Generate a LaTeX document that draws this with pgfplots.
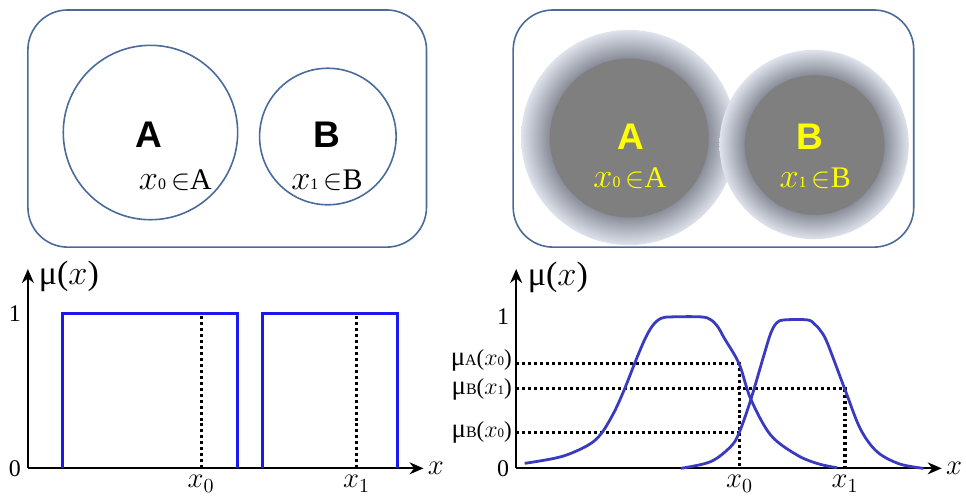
\documentclass[border=0pt]{standalone}
\usepackage{fontspec}
\setmainfont{Liberation Serif}
\setsansfont{Liberation Sans}
\usepackage{pgfplots}
\pgfplotsset{compat=1.18}
\usetikzlibrary{arrows.meta}
\definecolor{boxc}{HTML}{4A6B9A}
\definecolor{curvec}{HTML}{3A3AC0}
\definecolor{rectc}{HTML}{1A1AF0}
\definecolor{dgray}{HTML}{7F7F7F}
\definecolor{ring1}{HTML}{8A8E9A}
\definecolor{ring2}{HTML}{DFE3EC}
\definecolor{yel}{HTML}{FFFF00}
\pgfdeclareradialshading{glowA}{\pgfpoint{0bp}{0bp}}{color(0bp)=(dgray); color(18.4bp)=(dgray); color(18.5bp)=(ring1); color(25bp)=(ring2); color(50bp)=(ring2)}
\newcommand{\mulab}[2]{{\fontsize{13.5}{14}\selectfont μ}{\fontsize{8}{9}\selectfont #1}{\fontsize{11.5}{12}\selectfont(}{\fontsize{12.5}{13}\selectfont$x$}{\fontsize{6.5}{7}\selectfont #2}{\fontsize{11.5}{12}\selectfont)}}
\newcommand{\memb}[2]{{\fontsize{17}{18}\selectfont$x$}{\fontsize{8}{9}\selectfont #1}\,$\in$#2}
\tikzset{dots/.style={black, line width=1.6pt, dash pattern=on 1.5pt off 1.5pt}}
\begin{document}
\begin{tikzpicture}
% background frame in pixel units
\begin{axis}[at={(0pt,0pt)}, anchor=south west, scale only axis, width=483pt, height=248.5pt,
  xmin=0, xmax=966, ymin=0, ymax=497, y dir=reverse, hide axis, clip=false]
\path (axis cs:0,0) rectangle (axis cs:966,497);
% left box
\draw[boxc, line width=0.8pt, rounded corners=20pt] (axis cs:28,10) rectangle (axis cs:428,248);
\draw[boxc, line width=0.8pt] (axis cs:151,133) circle[radius=43.75pt];
\draw[boxc, line width=0.8pt] (axis cs:329,137) circle[radius=34.25pt];
\node[font=\sffamily\bfseries\fontsize{18.6}{20}\selectfont, inner sep=0pt] at (axis cs:149,135) {A};
\node[font=\sffamily\bfseries\fontsize{18.6}{20}\selectfont, inner sep=0pt] at (axis cs:328,135) {B};
\node[font=\fontsize{15}{16}\selectfont, inner sep=0pt] at (axis cs:176,181) {\memb{0}{A}};
\node[font=\fontsize{15}{16}\selectfont, inner sep=0pt] at (axis cs:328,181) {\memb{1}{B}};
% right box
\draw[boxc, line width=0.8pt, rounded corners=20pt] (axis cs:515,10) rectangle (axis cs:917,248);
\shade[shading=glowA] (axis cs:631,138) circle[radius=54pt];
\shade[shading=glowA] (axis cs:817,145) circle[radius=47.5pt];
\node[yel, font=\sffamily\bfseries\fontsize{18.6}{20}\selectfont, inner sep=0pt] at (axis cs:633,137) {A};
\node[yel, font=\sffamily\bfseries\fontsize{18.6}{20}\selectfont, inner sep=0pt] at (axis cs:813,137) {B};
\node[yel, font=\fontsize{15}{16}\selectfont, inner sep=0pt] at (axis cs:632,179) {\memb{0}{A}};
\node[yel, font=\fontsize{15}{16}\selectfont, inner sep=0pt] at (axis cs:818,179) {\memb{1}{B}};
\end{axis}

% bottom left: crisp sets
\begin{axis}[at={(14pt,13.5pt)}, anchor=south west, scale only axis, width=198.5pt, height=100pt,
  xmin=0, xmax=10, ymin=0, ymax=1.29, axis lines=left,
  axis line style={line width=1pt, -{Stealth[length=7pt,width=6pt]}},
  xtick={4.38,8.31}, xticklabels={$x_0$,$x_1$}, ytick={0,1}, yticklabels={0,1},
  major tick length=0pt, xticklabel style={font=\Large}, yticklabel style={font=\large}, clip=false]
\addplot[dots] coordinates {(4.38,0) (4.38,1)};
\addplot[dots] coordinates {(8.31,0) (8.31,1)};
\addplot[rectc, line width=1.5pt] coordinates {(0.88,0) (0.88,1) (5.29,1) (5.29,0)};
\addplot[rectc, line width=1.5pt] coordinates {(5.92,0) (5.92,1) (9.35,1) (9.35,0)};
\node[anchor=west, inner sep=1pt] at (axis cs:0.22,1.24) {{\fontsize{17}{18}\selectfont μ(}{\fontsize{17}{18}\selectfont$x$}{\fontsize{17}{18}\selectfont)}};
\node[anchor=west, font=\Large, inner sep=2pt] at (axis cs:10,0) {$x$};
\end{axis}

% bottom right: fuzzy sets
\begin{axis}[at={(259pt,13.5pt)}, anchor=south west, scale only axis, width=213.5pt, height=100pt,
  xmin=0, xmax=10, ymin=0, ymax=1.316, axis lines=left,
  axis line style={line width=1pt, -{Stealth[length=7pt,width=6pt]}},
  xtick={5.25,7.73}, xticklabels={$x_0$,$x_1$}, ytick={0,1}, yticklabels={0,1},
  major tick length=0pt, xticklabel style={font=\Large}, yticklabel style={font=\large}, clip=false]
\addplot[dots] coordinates {(0,0.69) (5.25,0.69) (5.25,0)};
\addplot[dots] coordinates {(0,0.526) (7.73,0.526) (7.73,0)};
\addplot[dots] coordinates {(0,0.235) (5.25,0.235)};
\addplot[curvec, line width=1.4pt, smooth, tension=0.55] coordinates {
 (0.20,0.033) (1.06,0.077) (1.69,0.153) (2.00,0.23) (2.30,0.37) (2.55,0.526) (2.78,0.69)
 (3.01,0.844) (3.20,0.94) (3.40,0.99) (3.65,1.0) (4.35,1.0) (4.58,0.98) (4.75,0.93) (4.89,0.86) (5.24,0.69)
 (5.51,0.46) (5.98,0.22) (6.60,0.088) (7.10,0.03) (7.54,0.004)};
\addplot[curvec, line width=1.4pt, smooth, tension=0.55] coordinates {
 (3.87,0) (4.57,0.044) (5.04,0.143) (5.24,0.235) (5.51,0.45) (5.82,0.745) (5.98,0.89)
 (6.12,0.96) (6.30,0.98) (6.85,0.98) (7.02,0.95) (7.15,0.91) (7.31,0.83) (7.72,0.526) (8.09,0.26) (8.48,0.11)
 (9.00,0.03) (9.57,0.0)};
\node[anchor=east, inner sep=0pt, xshift=-2pt, yshift=1.5pt] at (axis cs:0,0.69) {\mulab{A}{0}};
\node[anchor=east, inner sep=0pt, xshift=-2pt, yshift=-0.5pt] at (axis cs:0,0.526) {\mulab{B}{1}};
\node[anchor=east, inner sep=0pt, xshift=-2pt] at (axis cs:0,0.235) {\mulab{B}{0}};
\node[anchor=west, inner sep=1pt] at (axis cs:0.22,1.26) {{\fontsize{17}{18}\selectfont μ(}{\fontsize{17}{18}\selectfont$x$}{\fontsize{17}{18}\selectfont)}};
\node[anchor=west, font=\Large, inner sep=2pt] at (axis cs:10,0) {$x$};
\end{axis}
\end{tikzpicture}
\end{document}
